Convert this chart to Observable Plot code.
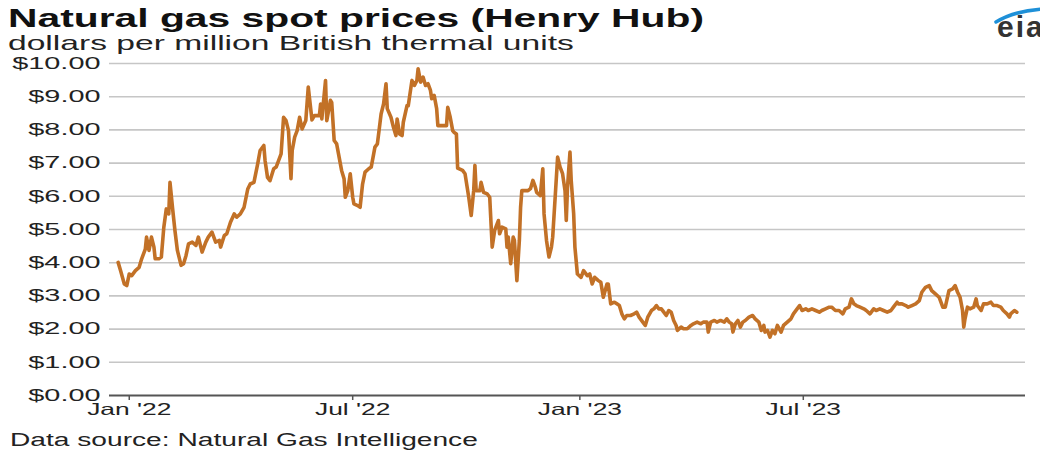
<!DOCTYPE html>
<html><head><meta charset="utf-8">
<script src="https://cdn.jsdelivr.net/npm/d3@7"></script>
<script src="https://cdn.jsdelivr.net/npm/@observablehq/plot@0.6"></script>
<style>
body{margin:0;background:#fff;}
#fig{position:relative;width:1040px;height:453px;font-family:"Liberation Sans",Arial,sans-serif;color:#111;overflow:hidden;background:#fff}
.stretch{position:absolute;white-space:nowrap;transform-origin:0 0;transform:scaleX(1.6)}
#plot{position:absolute;left:0;top:55px}
</style></head><body>
<div id="fig">
  <div id="title" class="stretch" style="left:8px;top:4px;font-size:25.5px;line-height:28px;font-weight:bold;color:#111"></div>
  <div id="subtitle" class="stretch" style="left:8px;top:32px;font-size:21px;line-height:22px;color:#222"></div>
  <svg id="logo" width="50" height="46" style="position:absolute;left:990px;top:0">
    <path d="M6,22 Q24,11 52,9" fill="none" stroke="#1e90d8" stroke-width="3.5" stroke-linecap="round"/>
    <text x="7" y="37" font-family="Liberation Sans, Arial, sans-serif" font-weight="bold" font-size="30" letter-spacing="2" fill="#333">eia</text>
  </svg>
  <div id="plot"></div>
  <div id="caption" class="stretch" style="left:10px;top:430px;font-size:17.6px;line-height:20px;color:#222"></div>
</div>
<script>
const titleText = "Natural gas spot prices (Henry Hub)";
const subtitleText = "dollars per million British thermal units";
const captionText = "Data source: Natural Gas Intelligence";

const yTicks = [0,1,2,3,4,5,6,7,8,9,10];
const xTickDates = ["2022-01-01","2022-07-01","2023-01-01","2023-07-01"];
const xTickLabels = ["Jan '22","Jul '22","Jan '23","Jul '23"];
const xDomain = ["2021-12-16","2023-12-28"];

const dates = [
"2021-12-23","2021-12-25","2021-12-28","2021-12-30",
"2022-01-01","2022-01-03","2022-01-06","2022-01-09","2022-01-11","2022-01-14","2022-01-15","2022-01-17","2022-01-19","2022-01-21","2022-01-22","2022-01-25","2022-01-27","2022-01-29","2022-01-31",
"2022-02-02","2022-02-03","2022-02-05","2022-02-07","2022-02-09","2022-02-12","2022-02-14","2022-02-16","2022-02-18","2022-02-21","2022-02-24","2022-02-26",
"2022-03-01","2022-03-04","2022-03-06","2022-03-09","2022-03-12","2022-03-15","2022-03-16","2022-03-19","2022-03-21","2022-03-24","2022-03-27","2022-03-29",
"2022-04-01","2022-04-04","2022-04-07","2022-04-09","2022-04-12","2022-04-15","2022-04-17","2022-04-20","2022-04-21","2022-04-23","2022-04-25","2022-04-28","2022-04-30",
"2022-05-04","2022-05-06","2022-05-08","2022-05-10","2022-05-12","2022-05-13","2022-05-15","2022-05-17","2022-05-19","2022-05-21","2022-05-24","2022-05-26","2022-05-29","2022-05-31",
"2022-06-04","2022-06-05","2022-06-06","2022-06-09","2022-06-10","2022-06-13","2022-06-14","2022-06-16","2022-06-18","2022-06-20","2022-06-22","2022-06-24","2022-06-25","2022-06-27","2022-06-29",
"2022-07-01","2022-07-02","2022-07-05","2022-07-07","2022-07-09","2022-07-11","2022-07-14","2022-07-16","2022-07-18","2022-07-19","2022-07-21","2022-07-23","2022-07-24","2022-07-26","2022-07-28","2022-07-29",
"2022-08-01","2022-08-03","2022-08-05","2022-08-06","2022-08-08","2022-08-10","2022-08-11","2022-08-14","2022-08-15","2022-08-18","2022-08-20","2022-08-22","2022-08-23","2022-08-25","2022-08-27","2022-08-29","2022-08-31",
"2022-09-02","2022-09-03","2022-09-05","2022-09-07","2022-09-08","2022-09-10","2022-09-13","2022-09-15","2022-09-16","2022-09-18","2022-09-20","2022-09-21","2022-09-23","2022-09-24","2022-09-28","2022-09-30",
"2022-10-03","2022-10-05","2022-10-07","2022-10-08","2022-10-09","2022-10-12","2022-10-13","2022-10-15","2022-10-18","2022-10-20","2022-10-22","2022-10-24","2022-10-27","2022-10-28","2022-10-30",
"2022-11-02","2022-11-03","2022-11-04","2022-11-06","2022-11-08","2022-11-09","2022-11-11","2022-11-13","2022-11-14","2022-11-15","2022-11-18","2022-11-20","2022-11-22","2022-11-24","2022-11-26","2022-11-27","2022-11-30",
"2022-12-02","2022-12-03","2022-12-05","2022-12-07","2022-12-09","2022-12-10","2022-12-12","2022-12-14","2022-12-16","2022-12-18","2022-12-20","2022-12-21","2022-12-22","2022-12-24","2022-12-25","2022-12-27","2022-12-28","2022-12-30",
"2023-01-02","2023-01-04","2023-01-07","2023-01-09","2023-01-11","2023-01-13","2023-01-16","2023-01-18","2023-01-20","2023-01-23","2023-01-24","2023-01-26","2023-01-29","2023-01-31",
"2023-02-02","2023-02-04","2023-02-06","2023-02-08","2023-02-11","2023-02-14","2023-02-16","2023-02-18","2023-02-21","2023-02-23","2023-02-25","2023-02-28",
"2023-03-02","2023-03-04","2023-03-06","2023-03-08","2023-03-10","2023-03-12","2023-03-14","2023-03-16","2023-03-18","2023-03-20","2023-03-21","2023-03-24","2023-03-26","2023-03-29",
"2023-04-01","2023-04-03","2023-04-06","2023-04-09","2023-04-11","2023-04-14","2023-04-15","2023-04-17","2023-04-20","2023-04-22","2023-04-25","2023-04-28","2023-04-30",
"2023-05-02","2023-05-04","2023-05-05","2023-05-07","2023-05-09","2023-05-11","2023-05-13","2023-05-15","2023-05-18","2023-05-21","2023-05-23","2023-05-26","2023-05-28","2023-05-30","2023-05-31",
"2023-06-02","2023-06-04","2023-06-06","2023-06-08","2023-06-10","2023-06-13","2023-06-15","2023-06-18","2023-06-21","2023-06-23","2023-06-26","2023-06-28","2023-06-30",
"2023-07-03","2023-07-05","2023-07-08","2023-07-11","2023-07-14","2023-07-16","2023-07-19","2023-07-22","2023-07-24","2023-07-27","2023-07-30",
"2023-08-02","2023-08-04","2023-08-07","2023-08-09","2023-08-11","2023-08-13","2023-08-16","2023-08-19","2023-08-21","2023-08-24","2023-08-27","2023-08-29",
"2023-09-01","2023-09-04","2023-09-07","2023-09-10","2023-09-12","2023-09-15","2023-09-16","2023-09-19","2023-09-22","2023-09-24","2023-09-27","2023-09-30",
"2023-10-03","2023-10-05","2023-10-08","2023-10-11","2023-10-13","2023-10-16","2023-10-19","2023-10-22","2023-10-24","2023-10-27","2023-10-30",
"2023-11-01","2023-11-03","2023-11-05","2023-11-07","2023-11-08","2023-11-09","2023-11-11","2023-11-13","2023-11-16","2023-11-18","2023-11-19","2023-11-22","2023-11-24","2023-11-27","2023-11-30",
"2023-12-02","2023-12-05","2023-12-08","2023-12-10","2023-12-13","2023-12-15","2023-12-16","2023-12-19","2023-12-21"
];

const prices = [
4.01,3.76,3.36,3.31,
3.66,3.61,3.76,3.86,4.11,4.41,4.77,4.37,4.77,4.47,4.12,4.12,4.17,5.07,5.62,
5.47,6.42,5.67,4.97,4.37,3.92,3.97,4.22,4.57,4.62,4.52,4.77,
4.32,4.62,4.77,4.92,4.62,4.67,4.47,4.82,4.87,5.22,5.47,5.37,
5.47,5.67,6.22,6.37,6.42,6.97,7.38,7.53,7.08,6.57,6.47,6.83,6.88,
7.28,8.38,8.28,7.98,6.53,7.38,7.78,7.98,8.38,8.03,8.28,9.29,8.30,8.43,
8.43,8.78,8.33,9.49,8.28,8.89,8.83,7.68,7.58,7.18,6.78,6.53,5.97,6.17,6.68,
5.97,5.77,5.72,5.67,6.37,6.73,6.83,6.88,7.28,7.48,7.58,8.18,8.48,8.78,9.39,8.64,
8.38,8.08,7.83,8.33,7.88,7.83,8.23,8.73,8.73,9.49,9.34,9.49,9.84,9.44,9.59,9.34,9.39,
9.19,8.94,9.04,8.64,8.13,8.13,8.13,8.13,8.68,8.38,7.98,7.93,7.88,6.85,6.78,6.68,
5.97,5.42,6.17,6.93,6.17,6.17,6.42,6.12,6.07,5.97,4.47,4.97,5.27,4.87,5.07,
5.02,4.47,4.77,3.97,4.77,4.67,3.46,4.67,5.67,6.17,6.17,6.17,6.23,6.48,6.27,6.12,6.02,
6.83,5.47,4.67,4.17,4.47,4.77,5.97,7.18,6.88,6.68,6.17,5.27,6.27,7.33,6.48,5.47,4.47,3.66,
3.56,3.76,3.61,3.66,3.36,3.56,3.46,3.41,2.96,3.36,3.36,2.76,2.81,2.76,
2.71,2.46,2.31,2.41,2.41,2.46,2.51,2.36,2.21,2.11,2.36,2.56,
2.61,2.71,2.61,2.61,2.51,2.41,2.56,2.51,2.26,2.11,1.96,2.06,2.01,2.01,
2.11,2.16,2.21,2.16,2.21,2.21,1.91,2.21,2.26,2.21,2.26,2.21,2.31,
2.21,2.16,1.91,2.16,2.26,2.06,2.21,2.26,2.36,2.41,2.31,2.21,1.96,2.11,1.91,
1.96,1.76,1.96,1.86,2.11,1.91,2.11,2.21,2.31,2.46,2.61,2.71,2.56,
2.61,2.56,2.61,2.56,2.51,2.56,2.61,2.66,2.66,2.56,2.56,
2.46,2.61,2.66,2.91,2.76,2.71,2.66,2.61,2.56,2.46,2.61,2.56,
2.61,2.56,2.51,2.56,2.66,2.81,2.76,2.76,2.71,2.66,2.71,2.76,
2.86,3.11,3.26,3.31,3.16,3.06,2.96,2.66,2.66,3.16,3.21,
3.31,3.11,2.96,2.56,2.06,2.31,2.66,2.61,2.66,2.91,2.71,2.56,2.76,2.76,2.81,
2.71,2.71,2.66,2.56,2.46,2.36,2.46,2.56,2.51
];

document.getElementById("title").textContent = titleText;
document.getElementById("subtitle").textContent = subtitleText;
document.getElementById("caption").textContent = captionText;

const data = dates.map((d, i) => ({date: new Date(d), price: prices[i]}));
const labelByTime = new Map(xTickDates.map((d, i) => [+new Date(d), xTickLabels[i]]));

const chart = Plot.plot({
  width: 1040,
  height: 367,
  marginTop: 8,
  marginBottom: 27,
  marginLeft: 109,
  marginRight: 15,
  style: {fontFamily: "Liberation Sans, Arial, sans-serif", fontSize: "16.5px", color: "#222", background: "#fff", overflow: "visible"},
  x: {type: "utc", domain: xDomain.map(d => new Date(d))},
  y: {domain: [0, 10]},
  marks: [
    Plot.gridY(yTicks.filter(v => v > 0), {stroke: "#c6c6c6", strokeOpacity: 1, strokeWidth: 1.6}),
    Plot.ruleY([0], {stroke: "#555", strokeWidth: 2}),
    Plot.axisY({ticks: yTicks, tickSize: 0, tickPadding: 9, tickFormat: v => "$" + v.toFixed(2), label: null, fill: "#222"}),
    Plot.axisX({ticks: xTickDates.map(d => new Date(d)), tickSize: 5, tickPadding: 3, tickFormat: d => labelByTime.get(+d), label: null, stroke: "#555", strokeWidth: 1.5, fill: "#222"}),
    Plot.line(data, {x: "date", y: "price", stroke: "#c27127", strokeWidth: 3.6, strokeLinejoin: "round"})
  ]
});

document.getElementById("plot").appendChild(chart);

// horizontal stretch of tick labels, as in the reference image
function stretchTexts(selector, k) {
  chart.querySelectorAll(selector).forEach(t => {
    const tr = t.getAttribute("transform");
    if (tr) {
      t.setAttribute("transform", tr + ` scale(${k},1)`);
    } else {
      const x = +(t.getAttribute("x") || 0), y = +(t.getAttribute("y") || 0);
      t.removeAttribute("x"); t.removeAttribute("y");
      t.setAttribute("transform", `translate(${x},${y}) scale(${k},1)`);
    }
  });
}
stretchTexts('g[aria-label="x-axis tick label"] text', 1.6);
stretchTexts('g[aria-label="y-axis tick label"] text', 1.75);
</script>
</body></html>
